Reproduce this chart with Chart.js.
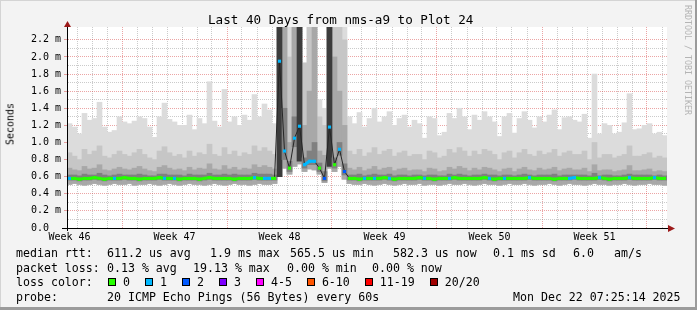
<!DOCTYPE html>
<html>
<head>
<meta charset="utf-8">
<script src="https://cdn.jsdelivr.net/npm/chart.js@4.4.1/dist/chart.umd.min.js"></script>
<style>
  html, body { margin: 0; padding: 0; background: #f3f3f3; }
  #frame { position: relative; width: 697px; height: 310px; background: #f3f3f3; overflow: hidden;
           font-family: 'DejaVu Sans Mono', monospace; color: #000; }
  #frame canvas { position: absolute; left: 0; top: 0; }
  .shade-r { position: absolute; right: 0; top: 0; width: 2px; height: 310px; background: #9b9b9b; }
  .shade-b { position: absolute; left: 0; bottom: 0; width: 697px; height: 3px; background: #9b9b9b; }
  .shade-t { position: absolute; left: 0; top: 0; width: 697px; height: 1px; background: #d4d4d4; }
  .shade-l { position: absolute; left: 0; top: 0; width: 1px; height: 310px; background: #d4d4d4; }
  .txt { position: absolute; white-space: pre; font-size: 11.6px; line-height: 14px; }
  #title { position: absolute; left: 208px; top: 12px; white-space: pre; font-size: 12.6px; line-height: 15px; }
  #ylabel { position: absolute; left: 10px; top: 124px; font-size: 10px; white-space: pre;
            transform: translate(-50%, -50%) rotate(-90deg); }
  #credit { position: absolute; left: 683px; top: 5px; font-size: 8.3px; color: #b4b4b4;
            writing-mode: vertical-rl; white-space: pre; }
  #loss-swatches { position: absolute; left: 108px; top: 275.3px; white-space: pre; font-size: 11.6px; line-height: 14px; }
  .loss-item { margin-right: 15px; }
  .swatch { display: inline-block; width: 8px; height: 8px; box-sizing: border-box; border: 1px solid #000;
            margin-right: 7px; vertical-align: baseline; }
</style>
</head>
<body>
<div id="frame">
  <canvas id="smoke" width="697" height="310"></canvas>
  <div id="title">Last 40 Days from nms-a9 to Plot 24</div>
  <div id="ylabel">Seconds</div>
  <div id="credit">RRDTOOL / TOBI OETIKER</div>

  <div class="txt" style="left:16px;top:246.3px">median rtt:</div>
  <div class="txt" style="left:107px;top:246.3px">611.2 us avg</div>
  <div class="txt" style="left:210px;top:246.3px">1.9 ms max</div>
  <div class="txt" style="left:290px;top:246.3px">565.5 us min</div>
  <div class="txt" style="left:393px;top:246.3px">582.3 us now</div>
  <div class="txt" style="left:493px;top:246.3px">0.1 ms sd</div>
  <div class="txt" style="left:573px;top:246.3px">6.0</div>
  <div class="txt" style="left:614px;top:246.3px">am/s</div>

  <div class="txt" style="left:16px;top:261px">packet loss:</div>
  <div class="txt" style="left:107px;top:261px">0.13 % avg</div>
  <div class="txt" style="left:193px;top:261px">19.13 % max</div>
  <div class="txt" style="left:287px;top:261px">0.00 % min</div>
  <div class="txt" style="left:372px;top:261px">0.00 % now</div>

  <div class="txt" style="left:16px;top:275.3px">loss color:</div>
  <div id="loss-swatches"></div>

  <div class="txt" style="left:16px;top:289.7px">probe:</div>
  <div class="txt" style="left:107px;top:289.7px">20 ICMP Echo Pings (56 Bytes) every 60s</div>
  <div class="txt" style="left:513px;top:289.7px">Mon Dec 22 07:25:14 2025</div>

  <div class="shade-t"></div>
  <div class="shade-l"></div>
  <div class="shade-r"></div>
  <div class="shade-b"></div>
</div>

<script>
// one sample every 8 hours, 40 days shown
const sampleStepDays = 1 / 3;
const rangeDays = 40;

// median round trip time per sample (ms)
const medianMs = [
  0.58, 0.58, 0.57, 0.58, 0.58, 0.59, 0.58, 0.57, 0.58, 0.58,
  0.58, 0.59, 0.58, 0.58, 0.57, 0.58, 0.58, 0.58, 0.59, 0.58,
  0.58, 0.58, 0.57, 0.58, 0.58, 0.58, 0.57, 0.58, 0.59, 0.58,
  0.58, 0.58, 0.58, 0.57, 0.58, 0.58, 0.58, 0.59, 0.58, 0.58,
  0.58, 0.58, 1.95, 0.90, 0.70, 1.05, 1.19, 0.74, 0.78, 0.78,
  0.70, 0.58, 1.18, 0.74, 0.92, 0.66, 0.58, 0.58, 0.57, 0.58,
  0.58, 0.58, 0.58, 0.59, 0.58, 0.57, 0.58, 0.58, 0.58, 0.58,
  0.59, 0.58, 0.58, 0.57, 0.58, 0.58, 0.58, 0.59, 0.58, 0.58,
  0.58, 0.58, 0.58, 0.59, 0.58, 0.57, 0.58, 0.58, 0.58, 0.58,
  0.58, 0.58, 0.59, 0.58, 0.58, 0.58, 0.58, 0.57, 0.58, 0.58,
  0.58, 0.59, 0.58, 0.58, 0.58, 0.58, 0.59, 0.58, 0.57, 0.58,
  0.58, 0.58, 0.59, 0.58, 0.58, 0.58, 0.58, 0.59, 0.58, 0.58
];

// lost pings out of 20 per sample
const lossCount = [
  1, 0, 0, 0, 0, 0, 0, 0, 0, 1,
  0, 0, 0, 0, 0, 0, 0, 0, 0, 1,
  0, 1, 0, 0, 0, 0, 0, 0, 0, 0,
  0, 0, 0, 0, 0, 0, 0, 1, 0, 1,
  1, 0, 1, 1, 0, 1, 1, 1, 1, 1,
  0, 2, 1, 0, 1, 2, 0, 0, 0, 1,
  0, 1, 0, 0, 1, 0, 0, 0, 0, 0,
  0, 1, 0, 0, 0, 0, 1, 0, 0, 0,
  0, 0, 0, 0, 1, 0, 0, 1, 0, 0,
  0, 0, 1, 0, 0, 0, 0, 0, 0, 0,
  1, 1, 0, 0, 0, 0, 1, 0, 0, 0,
  0, 0, 1, 0, 0, 0, 0, 1, 0, 0
];

// smoke: spread of the 20 pings (ms)
const smokeBaseMs = [
  0.51, 0.52, 0.51, 0.50, 0.51, 0.52, 0.51, 0.50, 0.51, 0.52,
  0.51, 0.51, 0.52, 0.50, 0.51, 0.51, 0.52, 0.51, 0.50, 0.51,
  0.52, 0.51, 0.50, 0.51, 0.52, 0.51, 0.51, 0.50, 0.51, 0.52,
  0.51, 0.50, 0.51, 0.52, 0.51, 0.51, 0.50, 0.51, 0.52, 0.51,
  0.51, 0.52, 0.60, 0.70, 0.63, 0.72, 0.75, 0.66, 0.69, 0.68,
  0.63, 0.53, 0.70, 0.66, 0.72, 0.57, 0.52, 0.51, 0.51, 0.52,
  0.51, 0.50, 0.51, 0.52, 0.51, 0.50, 0.51, 0.52, 0.51, 0.51,
  0.52, 0.50, 0.51, 0.51, 0.50, 0.51, 0.52, 0.51, 0.51, 0.52,
  0.51, 0.50, 0.51, 0.52, 0.51, 0.51, 0.50, 0.51, 0.52, 0.51,
  0.51, 0.52, 0.51, 0.50, 0.51, 0.51, 0.52, 0.51, 0.50, 0.51,
  0.52, 0.51, 0.51, 0.50, 0.51, 0.52, 0.51, 0.51, 0.50, 0.51,
  0.51, 0.52, 0.51, 0.50, 0.51, 0.51, 0.52, 0.51, 0.51, 0.50
];
const smokeDeepFloorMs = [
  0.56, 0.56, 0.55, 0.56, 0.56, 0.57, 0.56, 0.55, 0.56, 0.56,
  0.56, 0.57, 0.56, 0.56, 0.55, 0.56, 0.56, 0.56, 0.57, 0.56,
  0.56, 0.56, 0.55, 0.56, 0.56, 0.56, 0.55, 0.56, 0.57, 0.56,
  0.56, 0.56, 0.56, 0.55, 0.56, 0.56, 0.56, 0.57, 0.56, 0.56,
  0.56, 0.56, 0.60, 0.80, 0.66, 0.95, 0.78, 0.70, 0.74, 0.74,
  0.66, 0.55, 0.72, 0.70, 0.85, 0.62, 0.56, 0.56, 0.55, 0.56,
  0.56, 0.56, 0.56, 0.57, 0.56, 0.55, 0.56, 0.56, 0.56, 0.56,
  0.57, 0.56, 0.56, 0.55, 0.56, 0.56, 0.56, 0.57, 0.56, 0.56,
  0.56, 0.56, 0.56, 0.57, 0.56, 0.55, 0.56, 0.56, 0.56, 0.56,
  0.56, 0.56, 0.57, 0.56, 0.56, 0.56, 0.56, 0.55, 0.56, 0.56,
  0.56, 0.57, 0.56, 0.56, 0.56, 0.56, 0.57, 0.56, 0.55, 0.56,
  0.56, 0.56, 0.57, 0.56, 0.56, 0.56, 0.56, 0.57, 0.56, 0.56
];
const smokeDeepMs = [
  0.62, 0.62, 0.61, 0.63, 0.62, 0.62, 0.64, 0.62, 0.61, 0.62,
  0.63, 0.62, 0.62, 0.62, 0.63, 0.62, 0.61, 0.61, 0.63, 0.63,
  0.62, 0.62, 0.62, 0.61, 0.63, 0.62, 0.62, 0.62, 0.64, 0.62,
  0.62, 0.63, 0.62, 0.63, 0.62, 0.62, 0.62, 0.64, 0.63, 0.63,
  0.63, 0.62, 2.40, 1.40, 0.78, 1.30, 2.40, 0.82, 0.90, 1.00,
  0.76, 0.66, 2.40, 0.82, 1.00, 0.75, 0.62, 0.62, 0.63, 0.61,
  0.62, 0.63, 0.62, 0.62, 0.63, 0.61, 0.62, 0.62, 0.61, 0.62,
  0.62, 0.61, 0.62, 0.62, 0.61, 0.61, 0.63, 0.62, 0.63, 0.62,
  0.61, 0.62, 0.62, 0.63, 0.62, 0.62, 0.61, 0.62, 0.62, 0.61,
  0.62, 0.63, 0.62, 0.61, 0.62, 0.62, 0.62, 0.63, 0.61, 0.62,
  0.62, 0.62, 0.62, 0.62, 0.61, 0.64, 0.61, 0.62, 0.62, 0.61,
  0.61, 0.62, 0.63, 0.62, 0.62, 0.62, 0.62, 0.61, 0.62, 0.61
];
const smokeLowMs = [
  0.70, 0.68, 0.67, 0.72, 0.69, 0.70, 0.74, 0.68, 0.67, 0.69,
  0.71, 0.69, 0.68, 0.70, 0.72, 0.69, 0.67, 0.66, 0.71, 0.73,
  0.70, 0.68, 0.69, 0.67, 0.71, 0.68, 0.70, 0.69, 0.75, 0.69,
  0.68, 0.73, 0.69, 0.71, 0.68, 0.70, 0.69, 0.74, 0.71, 0.73,
  0.71, 0.69, 2.40, 2.40, 1.00, 2.40, 2.40, 1.20, 1.60, 2.40,
  0.90, 0.85, 2.40, 2.00, 1.60, 1.20, 0.70, 0.68, 0.71, 0.67,
  0.69, 0.72, 0.68, 0.70, 0.71, 0.67, 0.69, 0.70, 0.67, 0.68,
  0.68, 0.66, 0.70, 0.69, 0.66, 0.67, 0.71, 0.69, 0.72, 0.70,
  0.67, 0.70, 0.68, 0.71, 0.70, 0.68, 0.66, 0.69, 0.70, 0.66,
  0.69, 0.71, 0.68, 0.67, 0.70, 0.68, 0.69, 0.71, 0.67, 0.69,
  0.70, 0.68, 0.68, 0.70, 0.66, 0.74, 0.67, 0.68, 0.68, 0.66,
  0.67, 0.68, 0.73, 0.67, 0.67, 0.68, 0.69, 0.66, 0.67, 0.66
];
const smokeMidMs = [
  0.88, 0.84, 0.80, 0.92, 0.86, 0.90, 0.96, 0.84, 0.82, 0.86,
  0.90, 0.86, 0.84, 0.88, 0.92, 0.86, 0.82, 0.80, 0.90, 0.95,
  0.88, 0.84, 0.86, 0.82, 0.90, 0.84, 0.88, 0.86, 0.98, 0.86,
  0.84, 0.94, 0.86, 0.90, 0.84, 0.88, 0.86, 0.96, 0.90, 0.94,
  0.90, 0.86, 2.40, 2.40, 2.00, 2.40, 2.40, 1.93, 2.40, 2.40,
  1.30, 1.20, 2.40, 2.40, 2.40, 2.20, 0.90, 0.86, 0.92, 0.84,
  0.88, 0.94, 0.86, 0.90, 0.92, 0.84, 0.88, 0.90, 0.84, 0.86,
  0.86, 0.80, 0.90, 0.88, 0.82, 0.84, 0.92, 0.88, 0.94, 0.90,
  0.84, 0.90, 0.86, 0.92, 0.90, 0.86, 0.80, 0.88, 0.90, 0.82,
  0.88, 0.92, 0.86, 0.84, 0.90, 0.86, 0.88, 0.92, 0.84, 0.88,
  0.90, 0.86, 0.86, 0.90, 0.80, 1.00, 0.82, 0.86, 0.86, 0.82,
  0.84, 0.86, 0.96, 0.84, 0.84, 0.86, 0.88, 0.82, 0.84, 0.82
];
const smokeHighMs = [
  1.22, 1.18, 1.10, 1.34, 1.26, 1.28, 1.47, 1.18, 1.12, 1.14,
  1.30, 1.24, 1.22, 1.25, 1.30, 1.28, 1.18, 1.06, 1.30, 1.46,
  1.27, 1.24, 1.20, 1.20, 1.32, 1.15, 1.28, 1.22, 1.71, 1.25,
  1.18, 1.62, 1.24, 1.30, 1.20, 1.32, 1.26, 1.56, 1.30, 1.45,
  1.38, 1.22, 2.40, 2.40, 2.40, 2.40, 2.40, 1.93, 2.40, 2.40,
  1.50, 1.40, 2.40, 2.40, 2.40, 2.40, 1.30, 1.22, 1.35, 1.18,
  1.28, 1.40, 1.24, 1.30, 1.36, 1.20, 1.28, 1.32, 1.18, 1.26,
  1.22, 1.05, 1.30, 1.28, 1.08, 1.12, 1.34, 1.28, 1.40, 1.30,
  1.15, 1.32, 1.26, 1.36, 1.30, 1.24, 1.07, 1.30, 1.34, 1.11,
  1.28, 1.36, 1.26, 1.17, 1.30, 1.24, 1.32, 1.38, 1.15, 1.29,
  1.30, 1.26, 1.24, 1.33, 1.05, 1.80, 1.10, 1.22, 1.20, 1.10,
  1.12, 1.23, 1.57, 1.15, 1.16, 1.20, 1.22, 1.10, 1.12, 1.08
];

const weekLabels = ['Week 46', 'Week 47', 'Week 48', 'Week 49', 'Week 50', 'Week 51'];
const firstMondayDay = 11 / 3;   // first Monday 00:00, in days from the left edge
const lossLegend = ['0', '1', '2', '3', '4-5', '6-10', '11-19', '20/20'];
const lossColors = ['#26ff00', '#00b8ff', '#0059ff', '#7e00ff', '#ff00ff', '#ff5500', '#ff0000', '#a00000'];

const gridColor = 'rgba(140,140,140,0.45)';
const mgridColor = 'rgba(210,40,40,0.42)';
const fontFamily = "'DejaVu Sans Mono', monospace";

function lossBucket(n) {
  if (n <= 3) return n;
  if (n <= 5) return 4;
  if (n <= 10) return 5;
  if (n <= 19) return 6;
  return 7;
}
const lossColor = n => lossColors[lossBucket(n)];
const sampleDay = i => (i + 0.5) * sampleStepDays;
const toPoints = arr => arr.map((v, i) => ({ x: sampleDay(i), y: v }));
const toBars = (lo, hi) => hi.map((v, i) => ({ x: sampleDay(i), y: [lo[i], v] }));

function medianSegmentColor(ctx) {
  const a = ctx.p0DataIndex, b = ctx.p1DataIndex;
  if (Math.abs(medianMs[a] - medianMs[b]) > 0.08) return 'transparent';
  return lossColor(Math.min(lossCount[a], lossCount[b]));
}

// legend swatches
const swatchRow = document.getElementById('loss-swatches');
lossLegend.forEach((name, i) => {
  const item = document.createElement('span');
  item.className = 'loss-item';
  item.innerHTML = '<span class="swatch" style="background:' + lossColors[i] + '"></span>' + name;
  swatchRow.appendChild(item);
});

// x axis: a grid line per day, red ones on Mondays, labels mid-week
function buildDayTicks() {
  const ticks = [];
  for (let d = firstMondayDay % 1; d < rangeDays; d += 1) {
    const fromMonday = (d - firstMondayDay) / 7;
    ticks.push({ value: d, monday: Math.abs(fromMonday - Math.round(fromMonday)) < 1e-6 });
  }
  weekLabels.forEach((w, k) => {
    ticks.push({ value: firstMondayDay - 3.5 + 7 * k, week: w });
  });
  return ticks.sort((p, q) => p.value - q.value);
}

const frameExtras = {
  id: 'frameExtras',
  beforeDraw(chart) {
    const { ctx, chartArea: a } = chart;
    ctx.save();
    ctx.fillStyle = '#ffffff';
    ctx.fillRect(a.left, a.top, a.right - a.left, a.bottom - a.top);
    ctx.restore();
  },
  afterDraw(chart) {
    const { ctx, chartArea: a } = chart;
    ctx.save();
    ctx.strokeStyle = '#000';
    ctx.lineWidth = 1;
    ctx.beginPath();
    ctx.moveTo(a.left - 5, a.bottom + 0.5);
    ctx.lineTo(a.right + 2, a.bottom + 0.5);
    ctx.moveTo(a.left + 0.5, a.bottom + 3);
    ctx.lineTo(a.left + 0.5, a.top - 1);
    ctx.stroke();
    ctx.fillStyle = '#9c1a1a';
    ctx.beginPath();
    ctx.moveTo(a.right + 1, a.bottom - 3);
    ctx.lineTo(a.right + 8, a.bottom + 0.5);
    ctx.lineTo(a.right + 1, a.bottom + 4);
    ctx.closePath();
    ctx.fill();
    ctx.beginPath();
    ctx.moveTo(a.left - 3, a.top);
    ctx.lineTo(a.left + 0.5, a.top - 6);
    ctx.lineTo(a.left + 4, a.top);
    ctx.closePath();
    ctx.fill();
    ctx.restore();
  }
};

const smokeBand = (label, lo, hi, color, order) => ({
  type: 'bar',
  label: label,
  data: toBars(lo, hi),
  backgroundColor: color,
  borderWidth: 0,
  barPercentage: 1,
  categoryPercentage: 1,
  grouped: false,
  order: order
});

const smokeChart = new Chart(document.getElementById('smoke'), {
  type: 'line',
  data: {
    datasets: [
      {
        label: 'median rtt',
        data: toPoints(medianMs),
        borderWidth: 3,
        borderColor: lossColors[0],
        segment: { borderColor: medianSegmentColor },
        pointStyle: 'rect',
        pointRadius: 2.2,
        pointBorderWidth: 0,
        pointBackgroundColor: lossCount.map(lossColor),
        fill: false,
        order: 0
      },
      {
        label: 'median core',
        data: toPoints(medianMs),
        borderWidth: 1,
        borderColor: '#262626',
        pointRadius: 0,
        fill: false,
        order: 1
      },
      smokeBand('smoke deep', smokeDeepFloorMs, smokeDeepMs,
        ctx => (smokeDeepMs[ctx.dataIndex] - smokeDeepFloorMs[ctx.dataIndex] > 0.6 ? '#3c3c3c' : '#808080'), 2),
      smokeBand('smoke low', smokeBaseMs, smokeLowMs, '#a8a8a8', 3),
      smokeBand('smoke mid', smokeBaseMs, smokeMidMs, '#c6c6c6', 4),
      smokeBand('smoke high', smokeBaseMs, smokeHighMs, '#dcdcdc', 5)
    ]
  },
  options: {
    responsive: false,
    animation: false,
    devicePixelRatio: 1,
    layout: { padding: { left: 0, right: 30, top: 27, bottom: 0 } },
    plugins: {
      legend: { display: false },
      tooltip: { enabled: false },
      title: { display: false }
    },
    scales: {
      x: {
        type: 'linear',
        min: 0,
        max: rangeDays,
        offset: false,
        z: 1,
        afterBuildTicks: scale => { scale.ticks = buildDayTicks(); },
        afterFit: scale => { scale.height = 82; },
        ticks: {
          autoSkip: false,
          maxRotation: 0,
          padding: 3,
          color: '#000',
          font: { family: fontFamily, size: 10 },
          callback: (v, i, ticks) => ticks[i].week || ''
        },
        grid: {
          offset: false,
          drawTicks: false,
          lineWidth: 1,
          color: ctx => {
            const t = ctx.tick;
            if (!t || t.week) return 'transparent';
            return t.monday ? mgridColor : gridColor;
          }
        },
        border: { color: '#000', width: 1, dash: [1, 1] }
      },
      y: {
        type: 'linear',
        min: 0,
        max: 2.35,
        z: 1,
        afterBuildTicks: scale => {
          scale.ticks = scale.ticks.filter(t => Math.abs(t.value * 10 - Math.round(t.value * 10)) < 1e-6);
        },
        afterFit: scale => { scale.width = 67; },
        ticks: {
          stepSize: 0.1,
          autoSkip: false,
          padding: 3,
          color: '#000',
          font: { family: fontFamily, size: 10 },
          callback: v => {
            const k = Math.round(v * 10);
            if (k % 2) return '';
            return k === 0 ? '0.0  ' : (k / 10).toFixed(1) + ' m';
          }
        },
        grid: {
          lineWidth: 1,
          tickLength: 3,
          color: ctx => {
            const k = Math.round(ctx.tick.value * 10);
            if (k === 0) return 'transparent';
            return k % 2 ? gridColor : mgridColor;
          },
          tickColor: ctx => (Math.round(ctx.tick.value * 10) % 2 ? 'transparent' : mgridColor)
        },
        border: { color: '#000', width: 1, dash: [1, 1] }
      }
    }
  },
  plugins: [frameExtras]
});
</script>
</body>
</html>
